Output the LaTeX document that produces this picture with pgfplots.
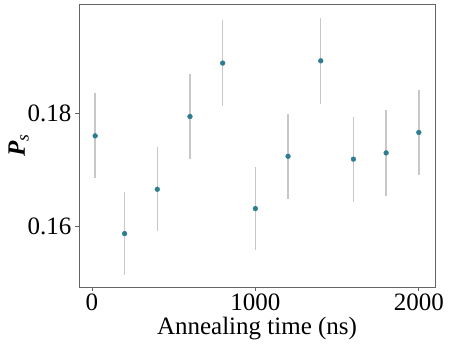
\documentclass[border=0pt]{standalone}
\usepackage{pgfplots}
\pgfplotsset{compat=1.18}
\usepackage{fontspec}
\setmainfont{Liberation Serif}
\definecolor{pt}{RGB}{45,125,145}
\definecolor{eb}{RGB}{200,200,200}
\definecolor{spine}{RGB}{100,100,100}
\begin{document}
\begin{tikzpicture}
\begin{axis}[
    scale only axis,
    width=356pt,
    height=283pt,
    xmin=-79, xmax=2099,
    ymin=0.1494, ymax=0.1992,
    xtick={0,1000,2000},
    ytick={0.16,0.18},
    xticklabel style={/pgf/number format/1000 sep={}, yshift=1pt},
    yticklabel style={/pgf/number format/fixed,/pgf/number format/precision=2,/pgf/number format/fixed zerofill},
    /pgf/number format/assume math mode=true,
    tick label style={font=\fontsize{25}{29}\selectfont},
    label style={font=\fontsize{25}{29}\selectfont},
    xlabel={Annealing time (ns)},
    ylabel={\textit{\textbf{P}}\textsubscript{\textit{s}}},
    axis line style={spine},
    tick style={spine, line width=0.8pt},
    tick align=outside,
    major tick length=4pt,
    xtick pos=bottom, ytick pos=left,
    scaled y ticks=false,
    xlabel style={yshift=0pt},
    ylabel style={yshift=-8pt},
]
\addplot[only marks, mark=*, mark size=2.4pt, mark options={fill=pt, draw=pt},
    error bars/.cd, y dir=both, y explicit,
    error bar style={eb, line width=1.5pt}, error mark=none]
  table[x=x, y=y, y error=e] {
x y e
20 0.1760 0.0075
200 0.1588 0.0073
400 0.1666 0.0074
600 0.1794 0.0075
800 0.1888 0.0076
1000 0.1632 0.0073
1200 0.1724 0.0075
1400 0.1892 0.0076
1600 0.1719 0.0075
1800 0.1730 0.0075
2000 0.1766 0.0075
};
\end{axis}
\pgfresetboundingbox
\path ([shift={(-79pt,-58pt)}]current axis.south west) rectangle ([shift={(14pt,4pt)}]current axis.north east);
\end{tikzpicture}
\end{document}
